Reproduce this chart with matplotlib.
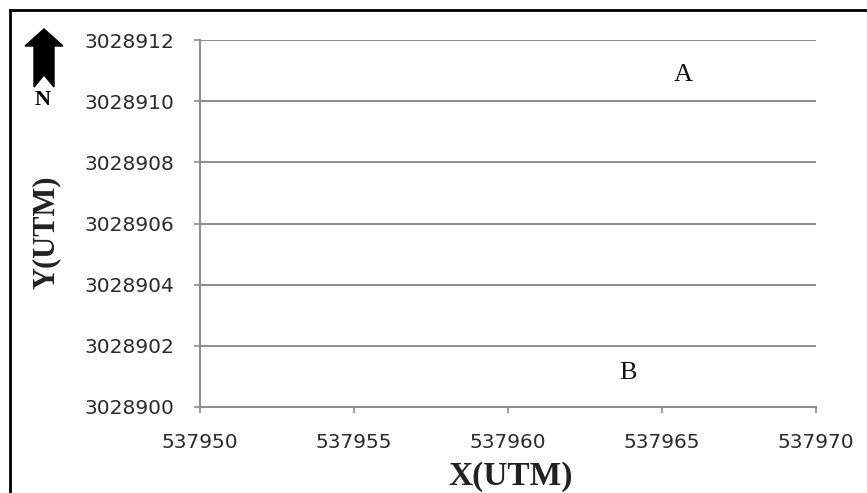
#!/usr/bin/env python3
"""Recreate the blank UTM location plot with points A and B."""

import matplotlib.pyplot as plt
from matplotlib.lines import Line2D
from matplotlib.patches import Polygon

X_TICKS = [537950, 537955, 537960, 537965, 537970]
Y_TICKS = [3028900, 3028902, 3028904, 3028906, 3028908, 3028910, 3028912]
POINT_NAMES = ["A", "B"]
POINT_X = [537965.7, 537963.9]
POINT_Y = [3028910.85, 3028901.1]

W, H = 867, 493
GRID = "#8c8c8c"


def fx(px):
    return px / W


def fy(py):
    return 1 - py / H


def main():
    fig = plt.figure(figsize=(W / 100, H / 100), dpi=100, facecolor="white")
    ax = fig.add_axes([fx(200), fy(407), fx(816) - fx(200), fy(40) - fy(407)])

    ax.set_xlim(X_TICKS[0], X_TICKS[-1])
    ax.set_ylim(Y_TICKS[0], Y_TICKS[-1])
    ax.set_xticks(X_TICKS)
    ax.set_yticks(Y_TICKS)
    ax.ticklabel_format(useOffset=False, style="plain")

    for y in Y_TICKS[1:]:
        ax.axhline(y, color=GRID, linewidth=1.4, zorder=0)

    for side in ("top", "right"):
        ax.spines[side].set_visible(False)
    for side in ("left", "bottom"):
        ax.spines[side].set_color(GRID)
        ax.spines[side].set_linewidth(1.4)

    ax.tick_params(axis="both", direction="out", length=4.5, width=1.2,
                   color=GRID, labelsize=14.5, labelcolor="#2b2b2b")
    ax.tick_params(axis="y", pad=14)
    ax.tick_params(axis="x", pad=14)

    for name, x, y in zip(POINT_NAMES, POINT_X, POINT_Y):
        ax.text(x, y, name, ha="center", va="center", fontsize=19,
                family="Liberation Serif", color="#111111")

    fig.text(fx(511), fy(476), "X(UTM)", ha="center", va="center",
             fontsize=24, fontweight="bold", family="Liberation Serif",
             color="#222222")
    fig.text(fx(46), fy(232), "Y(UTM)", rotation=90, ha="center",
             va="center", fontsize=22, fontweight="bold",
             family="Liberation Serif", color="#222222")

    # north arrow
    arrow_px = [(44, 29), (63, 46), (54, 46), (54, 87), (44, 75),
                (34, 87), (34, 46), (25, 46)]
    fig.patches.append(Polygon([(fx(a), fy(b)) for a, b in arrow_px],
                               closed=True, facecolor="black",
                               edgecolor="black", transform=fig.transFigure))
    fig.text(fx(43), fy(100), "N", ha="center", va="center", fontsize=16,
             fontweight="bold", family="Liberation Serif")

    # outer frame (cut at right and bottom)
    fig.add_artist(Line2D([fx(10), 1], [fy(10), fy(10)], color="black",
                          linewidth=2, transform=fig.transFigure))
    fig.add_artist(Line2D([fx(10), fx(10)], [fy(10), 0], color="black",
                          linewidth=2, transform=fig.transFigure))

    fig.savefig("out.png", dpi=100)
    plt.close(fig)


if __name__ == "__main__":
    main()
